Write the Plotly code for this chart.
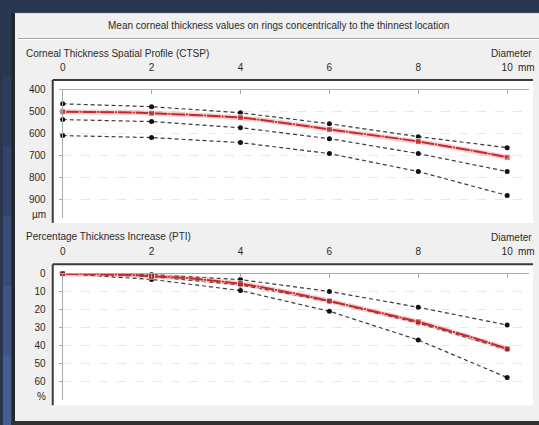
import plotly.graph_objects as go

W, H = 539, 425

# Ring diameters around the thinnest point (mm)
ring_mm = [0, 2, 4, 6, 8, 10]
profile_mm = [0.0, 0.4, 0.8, 1.2, 1.6, 2.0, 2.4, 2.8, 3.2, 3.6, 4.0, 4.4, 4.8,
              5.2, 5.6, 6.0, 6.4, 6.8, 7.2, 7.6, 8.0, 8.4, 8.8, 9.2, 9.6, 10.0]

# Corneal Thickness Spatial Profile (µm)
ctsp_patient = [500, 500, 501, 502, 504, 507, 509, 512, 517, 522, 527, 536, 546,
                557, 569, 581, 591, 601, 612, 624, 636, 649, 663, 677, 692, 708]
ctsp_norm_thin = [464, 477, 505, 555, 614, 664]
ctsp_norm_mean = [536, 545, 573, 623, 691, 773]
ctsp_norm_thick = [609, 618, 641, 691, 773, 882]

# Percentage Thickness Increase (%)
pti_patient = [0.0, 0.1, 0.2, 0.4, 0.8, 1.4, 1.8, 2.4, 3.4, 4.4, 5.6, 7.2, 9.0,
               10.8, 13.0, 15.2, 17.4, 19.6, 22.0, 24.4, 26.8, 29.6, 32.4, 35.4, 38.6, 41.8]
pti_norm_low = [0, 0.5, 3.3, 9.9, 18.7, 28.6]
pti_norm_mean = [0, 1.6, 6.3, 15.4, 27.5, 42.2]
pti_norm_high = [0, 3.2, 9.4, 20.9, 36.9, 57.8]

x_ticks = [0, 2, 4, 6, 8, 10]
x_tick_text = ["0", "2", "4", "6", "8", "10"]
ctsp_ticks = [400, 500, 600, 700, 800, 900]
pti_ticks = [0, 10, 20, 30, 40, 50, 60]

NAVY = "#28364f"
PANEL = "#f0f0f0"
TEXT = "#2a2a2a"
AXIS = "#a8a8a8"
RED = "#c42a2c"
DASH = "#3a3a3a"
FONT = dict(family="Liberation Sans, Arial, sans-serif", size=10, color=TEXT)


def fx(p):
    return p / W


def fy(p):
    return 1 - p / H


def big_at_rings(xs, big, small):
    return [big if abs(v - round(v)) < 1e-9 and round(v) % 2 == 0 else small for v in xs]


fig = go.Figure()


def add_profile(xa, ya, norms, patient):
    for vals in norms:
        fig.add_trace(go.Scatter(
            x=ring_mm, y=vals, xaxis=xa, yaxis=ya, mode="lines+markers",
            line=dict(color=DASH, width=1.2, dash="4px,3px"),
            marker=dict(color="#111111", size=5),
            cliponaxis=False, showlegend=False, hoverinfo="skip"))
    fig.add_trace(go.Scatter(
        x=profile_mm, y=patient, xaxis=xa, yaxis=ya, mode="lines",
        line=dict(color="rgba(220,90,90,0.3)", width=5),
        cliponaxis=False, showlegend=False, hoverinfo="skip"))
    fig.add_trace(go.Scatter(
        x=profile_mm, y=patient, xaxis=xa, yaxis=ya, mode="lines+markers",
        line=dict(color=RED, width=2),
        marker=dict(color=RED, size=big_at_rings(profile_mm, 6, 3), symbol="square"),
        cliponaxis=False, showlegend=False))


add_profile("x", "y", [ctsp_norm_thin, ctsp_norm_mean, ctsp_norm_thick], ctsp_patient)
add_profile("x2", "y2", [pti_norm_low, pti_norm_mean, pti_norm_high], pti_patient)

shapes = []
# dark backdrop strip shading on the left
bands = ["#29374f", "#2d3d5a", "#324468", "#374d77", "#3d5685", "#425e92"]
for i, c in enumerate(bands):
    shapes.append(dict(type="rect", xref="paper", yref="paper", layer="below",
                       x0=fx(0), x1=fx(10), y0=fy(i * H / len(bands)),
                       y1=fy((i + 1) * H / len(bands)), fillcolor=c, line_width=0))
# window panel
shapes.append(dict(type="rect", xref="paper", yref="paper", layer="below",
                   x0=fx(12), x1=fx(539), y0=fy(421), y1=fy(7),
                   fillcolor=PANEL, line_width=0))
shapes.append(dict(type="rect", xref="paper", yref="paper", layer="below",
                   x0=fx(8.5), x1=fx(12), y0=fy(425), y1=fy(7),
                   fillcolor="#262626", line_width=0))
shapes.append(dict(type="rect", xref="paper", yref="paper", layer="below",
                   x0=fx(8.5), x1=fx(539), y0=fy(425), y1=fy(421),
                   fillcolor="#303030", line_width=0))
shapes.append(dict(type="line", xref="paper", yref="paper", layer="below",
                   x0=fx(12), x1=fx(539), y0=fy(7.5), y1=fy(7.5),
                   line=dict(color="#d8d8d8", width=1)))
# title separator
shapes.append(dict(type="line", xref="paper", yref="paper", layer="below",
                   x0=fx(15), x1=fx(539), y0=fy(33), y1=fy(33),
                   line=dict(color="#a0a0a0", width=1)))
shapes.append(dict(type="line", xref="paper", yref="paper", layer="below",
                   x0=fx(15), x1=fx(539), y0=fy(34), y1=fy(34),
                   line=dict(color="#ffffff", width=1)))
# white chart wells with sunken edges
for top, bottom in [(75, 220), (262, 405)]:
    shapes.append(dict(type="rect", xref="paper", yref="paper", layer="below",
                       x0=fx(50), x1=fx(533), y0=fy(bottom), y1=fy(top),
                       fillcolor="#ffffff", line_width=0))
    shapes.append(dict(type="line", xref="paper", yref="paper", layer="below",
                       x0=fx(50), x1=fx(533), y0=fy(top), y1=fy(top),
                       line=dict(color="#3a3a3a", width=2)))
    shapes.append(dict(type="line", xref="paper", yref="paper", layer="below",
                       x0=fx(50), x1=fx(50), y0=fy(bottom), y1=fy(top),
                       line=dict(color="#3a3a3a", width=2)))

annotations = []


def label(text, x, y, anchor="left"):
    annotations.append(dict(text=text, x=fx(x), y=fy(y), xref="paper", yref="paper",
                            xanchor=anchor, yanchor="middle", showarrow=False, font=FONT))


label("Mean corneal thickness values on rings concentrically to the thinnest location", 277, 19.5, "center")
label("Corneal Thickness Spatial Profile (CTSP)", 21, 48)
label("Diameter", 534, 48, "right")
label("mm", 516, 62)
label("µm", 45, 211, "right")
label("Percentage Thickness Increase (PTI)", 21, 234)
label("Diameter", 534, 235, "right")
label("mm", 516, 249)
label("%", 45, 396, "right")

x_dom = [fx(60), fx(529.35)]


def x_axis(anchor):
    return dict(domain=x_dom, range=[0, 10.5], anchor=anchor, side="top",
                showline=True, linecolor=AXIS, linewidth=1, mirror=False,
                ticks="inside", ticklen=4, tickcolor=AXIS,
                tickvals=x_ticks, ticktext=x_tick_text, tickfont=FONT,
                ticklabelstandoff=14, showgrid=False, zeroline=False, fixedrange=True)


def y_axis(anchor, dom, rng, ticks):
    return dict(domain=dom, range=rng, anchor=anchor,
                showline=True, linecolor=AXIS, linewidth=1,
                ticks="outside", ticklen=3, tickcolor=AXIS,
                tickvals=ticks, tickfont=FONT, ticklabelstandoff=11,
                showgrid=True, gridcolor="#e8e8e8", griddash="dash", gridwidth=1,
                zeroline=False, fixedrange=True)


fig.update_layout(
    width=W, height=H, autosize=False,
    margin=dict(l=0, r=0, t=0, b=0),
    paper_bgcolor=NAVY, plot_bgcolor="rgba(0,0,0,0)",
    showlegend=False, font=FONT,
    xaxis=x_axis("y"),
    yaxis=y_axis("x", [fy(215), fy(85)], [985, 400], ctsp_ticks),
    xaxis2=x_axis("y2"),
    yaxis2=y_axis("x2", [fy(400), fy(271.5)], [70.5, 0], pti_ticks),
    shapes=shapes, annotations=annotations,
)

fig.write_html("out.html")
